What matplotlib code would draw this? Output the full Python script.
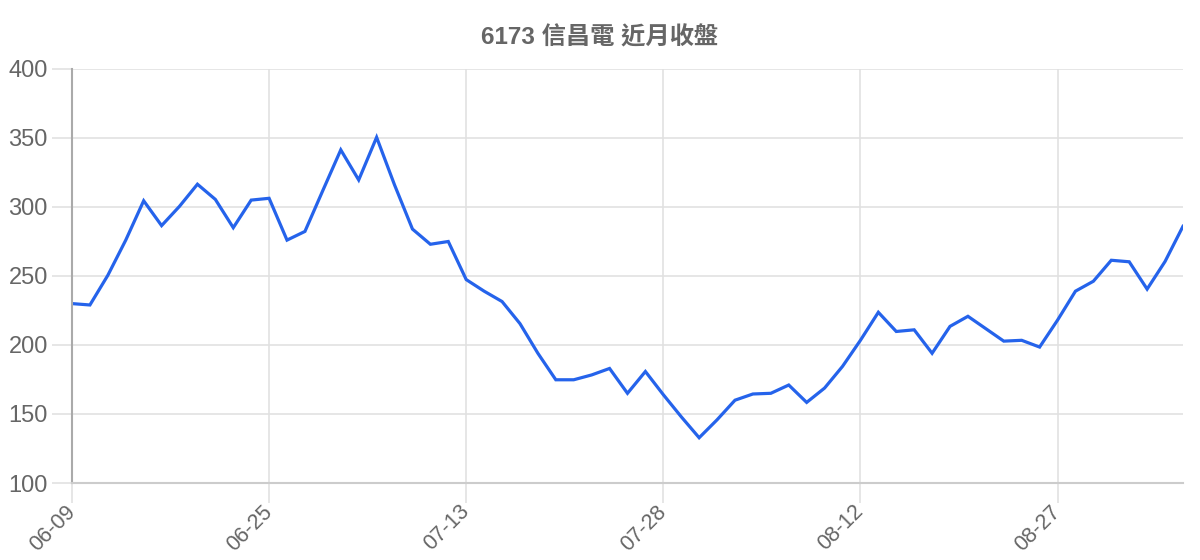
import matplotlib
matplotlib.use('Agg')
import matplotlib.pyplot as plt
import numpy as np

plt.rcParams['font.family'] = ['Liberation Sans', 'Noto Sans CJK TC', 'DejaVu Sans']

# closing prices, one per trading day
closes = [230, 229, 250.5, 276, 304.5, 286.5, 300.5, 316.5, 305.5, 285, 305, 306.3,
          276, 282.3, 312, 341.4, 319.6, 350.5, 316, 284, 273, 275,
          247.4, 239, 231.5, 215.5, 194, 174.8, 174.8, 178.3, 183, 165, 180.8,
          164, 148, 132.8, 145.8, 160, 164.5, 165, 171, 158.4, 168.8,
          184.5, 203.4, 223.7, 209.8, 211, 194, 213.5, 220.8, 211.8, 202.8,
          203.4, 198.5, 218, 239, 246.2, 261.4, 260.3, 240.5, 260.5, 286]
tick_idx = [0, 11, 22, 33, 44, 55]
tick_labels = ['06-09', '06-25', '07-13', '07-28', '08-12', '08-27']
title = '6173 信昌電 近月收盤'

x = np.arange(len(closes))

fig = plt.figure(figsize=(12, 5.6), dpi=100)
ax = fig.add_axes([0.06, 0.1375, 0.9258, 0.7393])

ax.plot(x, closes, color='#2563EB', lw=2.3, solid_joinstyle='miter')

ax.set_xlim(0, len(closes) - 1)
ax.set_ylim(100, 400)
ax.set_yticks([100, 150, 200, 250, 300, 350, 400])
ax.set_xticks(tick_idx)
ax.set_xticklabels(tick_labels, rotation=45, ha='right', va='center',
                   rotation_mode='anchor')

ax.grid(True, color='#e1e1e1', lw=1.2)
ax.set_axisbelow(True)
ax.tick_params(axis='both', length=14.4, width=1.2, color='#e1e1e1',
               labelcolor='#666666')
ax.tick_params(axis='y', labelsize=17, pad=3)
ax.tick_params(axis='x', labelsize=15.5, pad=4)

for s in ['top', 'right']:
    ax.spines[s].set_visible(False)
ax.spines['left'].set_color('#aaaaaa')
ax.spines['left'].set_linewidth(1.5)
ax.spines['bottom'].set_color('#cccccc')
ax.spines['bottom'].set_linewidth(1.5)

fig.text(0.5, 0.932, title, ha='center', va='center', fontsize=17.5,
         fontweight='bold', color='#666666')

fig.savefig('out.png', dpi=100)
